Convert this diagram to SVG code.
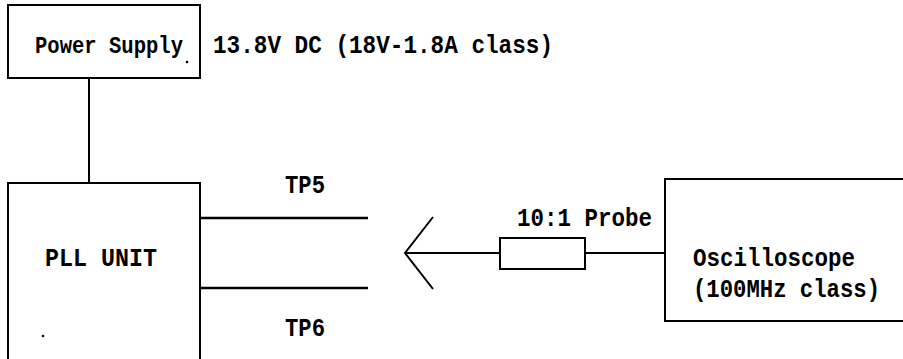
<svg xmlns="http://www.w3.org/2000/svg" width="903" height="359" viewBox="0 0 903 359">
<style>
  .box { fill: none; stroke: #000; stroke-width: 2; }
  .wire { fill: none; stroke: #000; stroke-width: 2; }
  .tp { fill: none; stroke: #000; stroke-width: 2.5; }
  text { font-family: "Liberation Mono", "DejaVu Sans Mono", monospace; font-weight: bold; font-size: 25px; fill: #000; }
</style>
<rect width="903" height="359" fill="#fff"/>
<g id="connectors">
  <line class="wire" x1="89" y1="78" x2="89" y2="183"/>
  <line class="tp" x1="200" y1="218" x2="368" y2="218"/>
  <line class="tp" x1="200" y1="288" x2="368" y2="288"/>
  <polyline class="wire" points="433,217 405,253 433,289"/>
  <line class="wire" x1="405" y1="253" x2="500" y2="253"/>
  <line class="wire" x1="585" y1="253" x2="665" y2="253"/>
</g>
<g id="power-supply">
  <rect class="box" x="8" y="5" width="192" height="73"/>
  <text x="35" y="53" textLength="148" lengthAdjust="spacingAndGlyphs" style="font-size:24px">Power Supply</text>
</g>
<text id="supply-label" x="213" y="53" textLength="340" lengthAdjust="spacingAndGlyphs">13.8V DC (18V-1.8A class)</text>
<g id="pll-unit">
  <path class="box" d="M8,365 V183 H200 V365"/>
  <text x="45" y="266" textLength="112" lengthAdjust="spacingAndGlyphs">PLL UNIT</text>
</g>
<g id="tp5"><text x="285" y="193" textLength="40" lengthAdjust="spacingAndGlyphs">TP5</text></g>
<g id="tp6"><text x="285" y="336" textLength="40" lengthAdjust="spacingAndGlyphs">TP6</text></g>
<g id="probe">
  <rect class="box" x="500" y="238" width="85" height="31"/>
  <text x="517" y="226" textLength="135" lengthAdjust="spacingAndGlyphs">10:1 Probe</text>
</g>
<g id="oscilloscope">
  <rect class="box" x="665" y="179" width="260" height="142"/>
  <text x="693" y="266" textLength="162" lengthAdjust="spacingAndGlyphs">Oscilloscope</text>
  <text x="693" y="297" textLength="187" lengthAdjust="spacingAndGlyphs">(100MHz class)</text>
</g>
<g id="specks">
  <circle cx="187" cy="62" r="1.3" fill="#000"/>
  <circle cx="43" cy="336" r="1.3" fill="#000"/>
</g>
</svg>
